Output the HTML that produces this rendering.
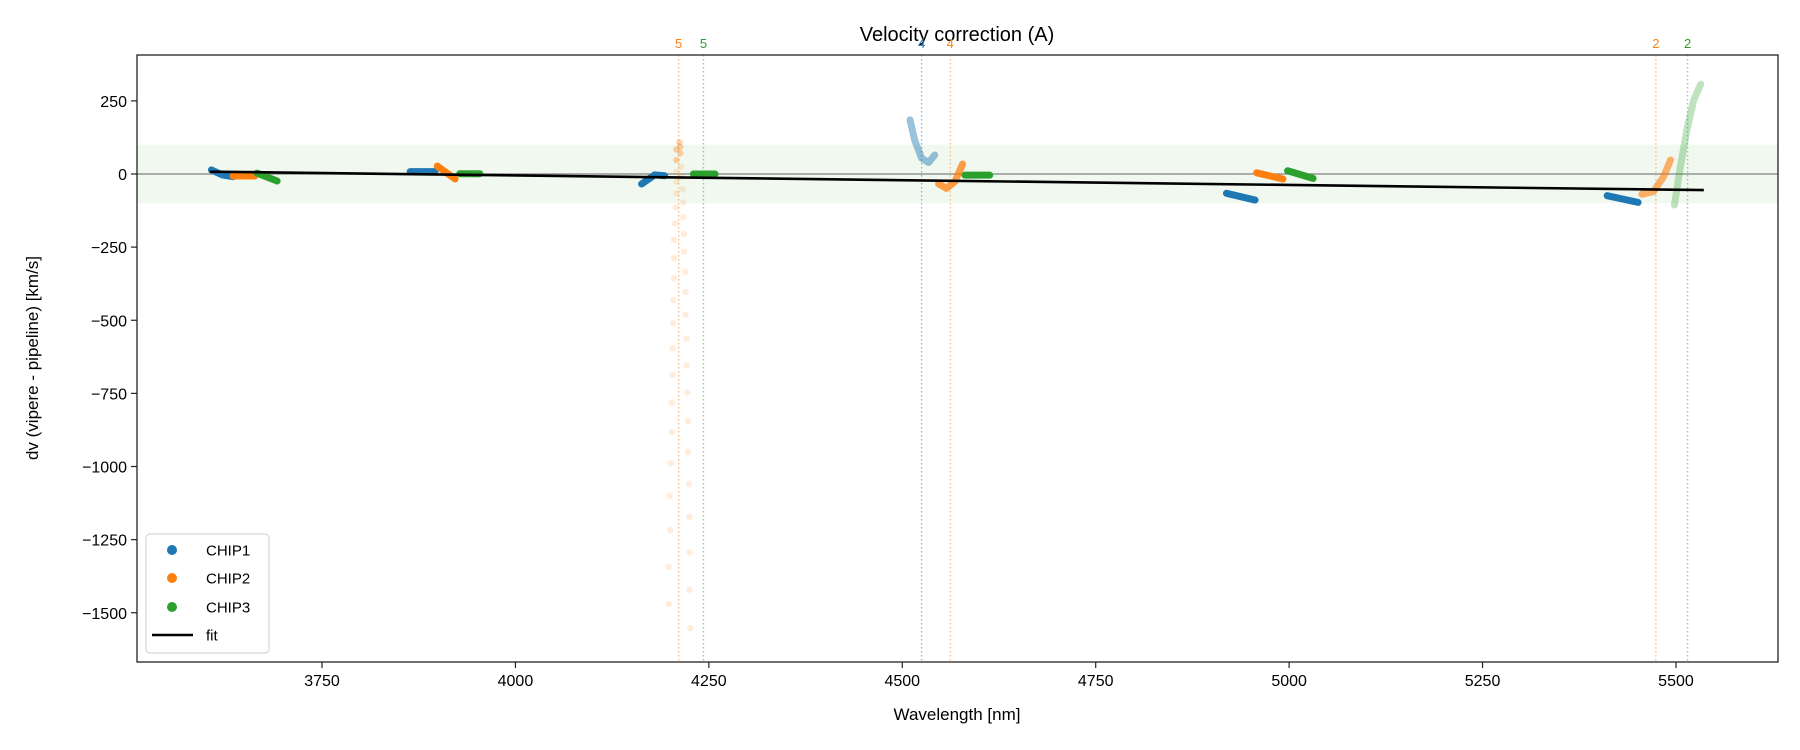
<!DOCTYPE html>
<html><head><meta charset="utf-8"><style>
body{margin:0;background:#fff}
svg{display:block;font-family:"Liberation Sans","DejaVu Sans",sans-serif}
</style></head><body>
<svg id="chart" width="1800" height="750" viewBox="0 0 1800 750">
<text x="957" y="41" font-size="20" text-anchor="middle">Velocity correction (A)</text>
<text x="957" y="720" font-size="17" text-anchor="middle">Wavelength [nm]</text>
<text transform="translate(38,358) rotate(-90)" font-size="17" text-anchor="middle">dv (vipere - pipeline) [km/s]</text>
<g id="plot"></g>
</svg>
<script>
const xTicks=[3750,4000,4250,4500,4750,5000,5250,5500];
const yTicks=[250,0,-250,-500,-750,-1000,-1250,-1500];
// clusters: wavelength/dv arrays
const c1x=[3607,3621,3635], c1y=[14,-3,-9];
const c2x=[3635,3663], c2y=[-7,-7];
const c3x=[3666,3692], c3y=[3,-24];
const b2x=[3864,3896], b2y=[8,8];
const o2x=[3899,3922], o2y=[27,-17];
const g2x=[3928,3954], g2y=[1,1];
const b3x=[4163,4180,4193], b3y=[-34,-3,-6];
const g3x=[4230,4258], g3y=[0,0];
const oScatX=[4212,4208,4208,4208,4208,4208,4207,4206,4205,4205,4205,4204,4204,4203,4203,4202,4202,4201,4200,4200,4198,4198,
 4213,4213,4214,4215,4216,4217,4217,4218,4218,4220,4220,4220,4221,4221,4222,4223,4223,4224,4225,4225,4225,4226];
const oScatY=[108,84,48,8,-26,-66,-114,-169,-225,-288,-356,-431,-510,-596,-687,-781,-883,-989,-1100,-1218,-1343,-1470,
 93,71,25,-9,-52,-97,-148,-205,-265,-334,-404,-481,-563,-654,-747,-845,-950,-1059,-1172,-1294,-1421,-1553];
const b4x=[4510,4516,4525,4534,4542], b4y=[185,116,54,39,65];
const o4x=[4547,4557,4568,4578], o4y=[-34,-49,-26,34];
const g4x=[4581,4613], g4y=[-4,-4];
const b5x=[4919,4956], b5y=[-66,-89];
const o5x=[4958,4992], o5y=[4,-17];
const g5x=[4998,5031], g5y=[11,-15];
const b6x=[5411,5451], b6y=[-74,-97];
const o6x=[5456,5471,5484,5493], o6y=[-69,-60,-9,48];
const g6x=[5498,5505,5514,5523,5532], g6y=[-106,14,150,253,307];
const fitX=[3605,5536], fitY=[8,-55];
const vlineX=[4211,4243,4525,4562,5474,5515];
const vlineLabel=["5","5","4","4","2","2"];
const vlineColor=["#ff7f0e","#2ca02c","#1f77b4","#ff7f0e","#ff7f0e","#2ca02c"];

const L=137,R=1778,T=55,B=662;
const X=v=>322+(v-3750)*0.7737;
const Y=d=>174-d*0.2925;
const NS="http://www.w3.org/2000/svg";
const plot=document.getElementById('plot');
function mk(tag,attrs,parent){const e=document.createElementNS(NS,tag);for(const k in attrs)e.setAttribute(k,attrs[k]);(parent||plot).appendChild(e);return e;}

// band
let band=mk('rect',{x:L,y:Y(100),width:R-L,height:Y(-100)-Y(100),fill:'#2ca02c','fill-opacity':0.07});


let zl=mk('line',{x1:L,x2:R,y1:Y(0),y2:Y(0),stroke:'#808080','stroke-width':1.2});



// vlines
vlineX.forEach((v,i)=>{
 const l=mk('line',{x1:X(v),x2:X(v),y1:T,y2:B,stroke:vlineColor[i],'stroke-width':1.4,'stroke-dasharray':'1.5,2.5','stroke-opacity':0.5});
 
 
 const t=mk('text',{x:X(v),y:T-7,'font-size':13,fill:vlineColor[i],'text-anchor':'middle'});
 t.textContent=vlineLabel[i];
 
 
});

// scatter
oScatX.forEach((v,i)=>{
 const c=mk('circle',{cx:X(v),cy:Y(oScatY[i]),r:3.2,fill:'#ff7f0e','fill-opacity':i<3||(i>=22&&i<24)?0.35:0.15});
 
 
});

function seg(xs,ys,color,op,name){
 const p=mk('polyline',{points:xs.map((v,i)=>X(v)+','+Y(ys[i])).join(' '),fill:'none',stroke:color,'stroke-width':7,'stroke-linecap':'round','stroke-linejoin':'round','stroke-opacity':op});
 
 
}
const C1='#1f77b4',C2='#ff7f0e',C3='#2ca02c';
seg(c1x,c1y,C1,1,'chip1-series');seg(c2x,c2y,C2,1,'chip2-series');seg(c3x,c3y,C3,1,'chip3-series');
seg(b2x,b2y,C1,1,'chip1-series');seg(o2x,o2y,C2,1,'chip2-series');seg(g2x,g2y,C3,1,'chip3-series');
seg(b3x,b3y,C1,1,'chip1-series');seg(g3x,g3y,C3,1,'chip3-series');
seg(b4x,b4y,C1,0.45,'chip1-series');seg(o4x,o4y,C2,0.75,'chip2-series');seg(g4x,g4y,C3,1,'chip3-series');
seg(b5x,b5y,C1,1,'chip1-series');seg(o5x,o5y,C2,1,'chip2-series');seg(g5x,g5y,C3,1,'chip3-series');
seg(b6x,b6y,C1,1,'chip1-series');seg(o6x,o6y,C2,0.6,'chip2-series');seg(g6x,g6y,C3,0.3,'chip3-series');

// fit
let fl=mk('line',{x1:X(fitX[0]),y1:Y(fitY[0]),x2:X(fitX[1]),y2:Y(fitY[1]),stroke:'#000','stroke-width':2.6});



// axes frame
let fr=mk('rect',{x:L,y:T,width:R-L,height:B-T,fill:'none',stroke:'#222','stroke-width':1.3});


xTicks.forEach(v=>{
 const l=mk('line',{x1:X(v),x2:X(v),y1:B,y2:B+6,stroke:'#222','stroke-width':1.2});
 
 
 const t=mk('text',{x:X(v),y:B+24,'font-size':16,'text-anchor':'middle'});
 t.textContent=v;
 
 
});
yTicks.forEach(v=>{
 const l=mk('line',{x1:L-6,x2:L,y1:Y(v),y2:Y(v),stroke:'#222','stroke-width':1.2});
 
 
 const t=mk('text',{x:L-10,y:Y(v)+6,'font-size':16,'text-anchor':'end'});
 t.textContent=v<0?'\u2212'+(-v):v;
 
 
});

// legend
const lg=mk('g',{});


mk('rect',{x:146,y:534,width:123,height:119,rx:4,fill:'#fff','fill-opacity':0.85,stroke:'#d6d6d6','stroke-width':1.2},lg);
const legNames=['CHIP1','CHIP2','CHIP3'],legCols=[C1,C2,C3],legY=[550,578,607];
legNames.forEach((n,i)=>{
 const g=mk('g',{},lg);
 
 
 mk('circle',{cx:172,cy:legY[i],r:5,fill:legCols[i]},g);
 const t=mk('text',{x:206,y:legY[i]+5.5,'font-size':15},g);t.textContent=n;
});
const gf=mk('g',{},lg);


mk('line',{x1:152,x2:193,y1:635,y2:635,stroke:'#000','stroke-width':2.6},gf);
const tf=mk('text',{x:206,y:640.5,'font-size':15},gf);tf.textContent='fit';
</script>
</body></html>
